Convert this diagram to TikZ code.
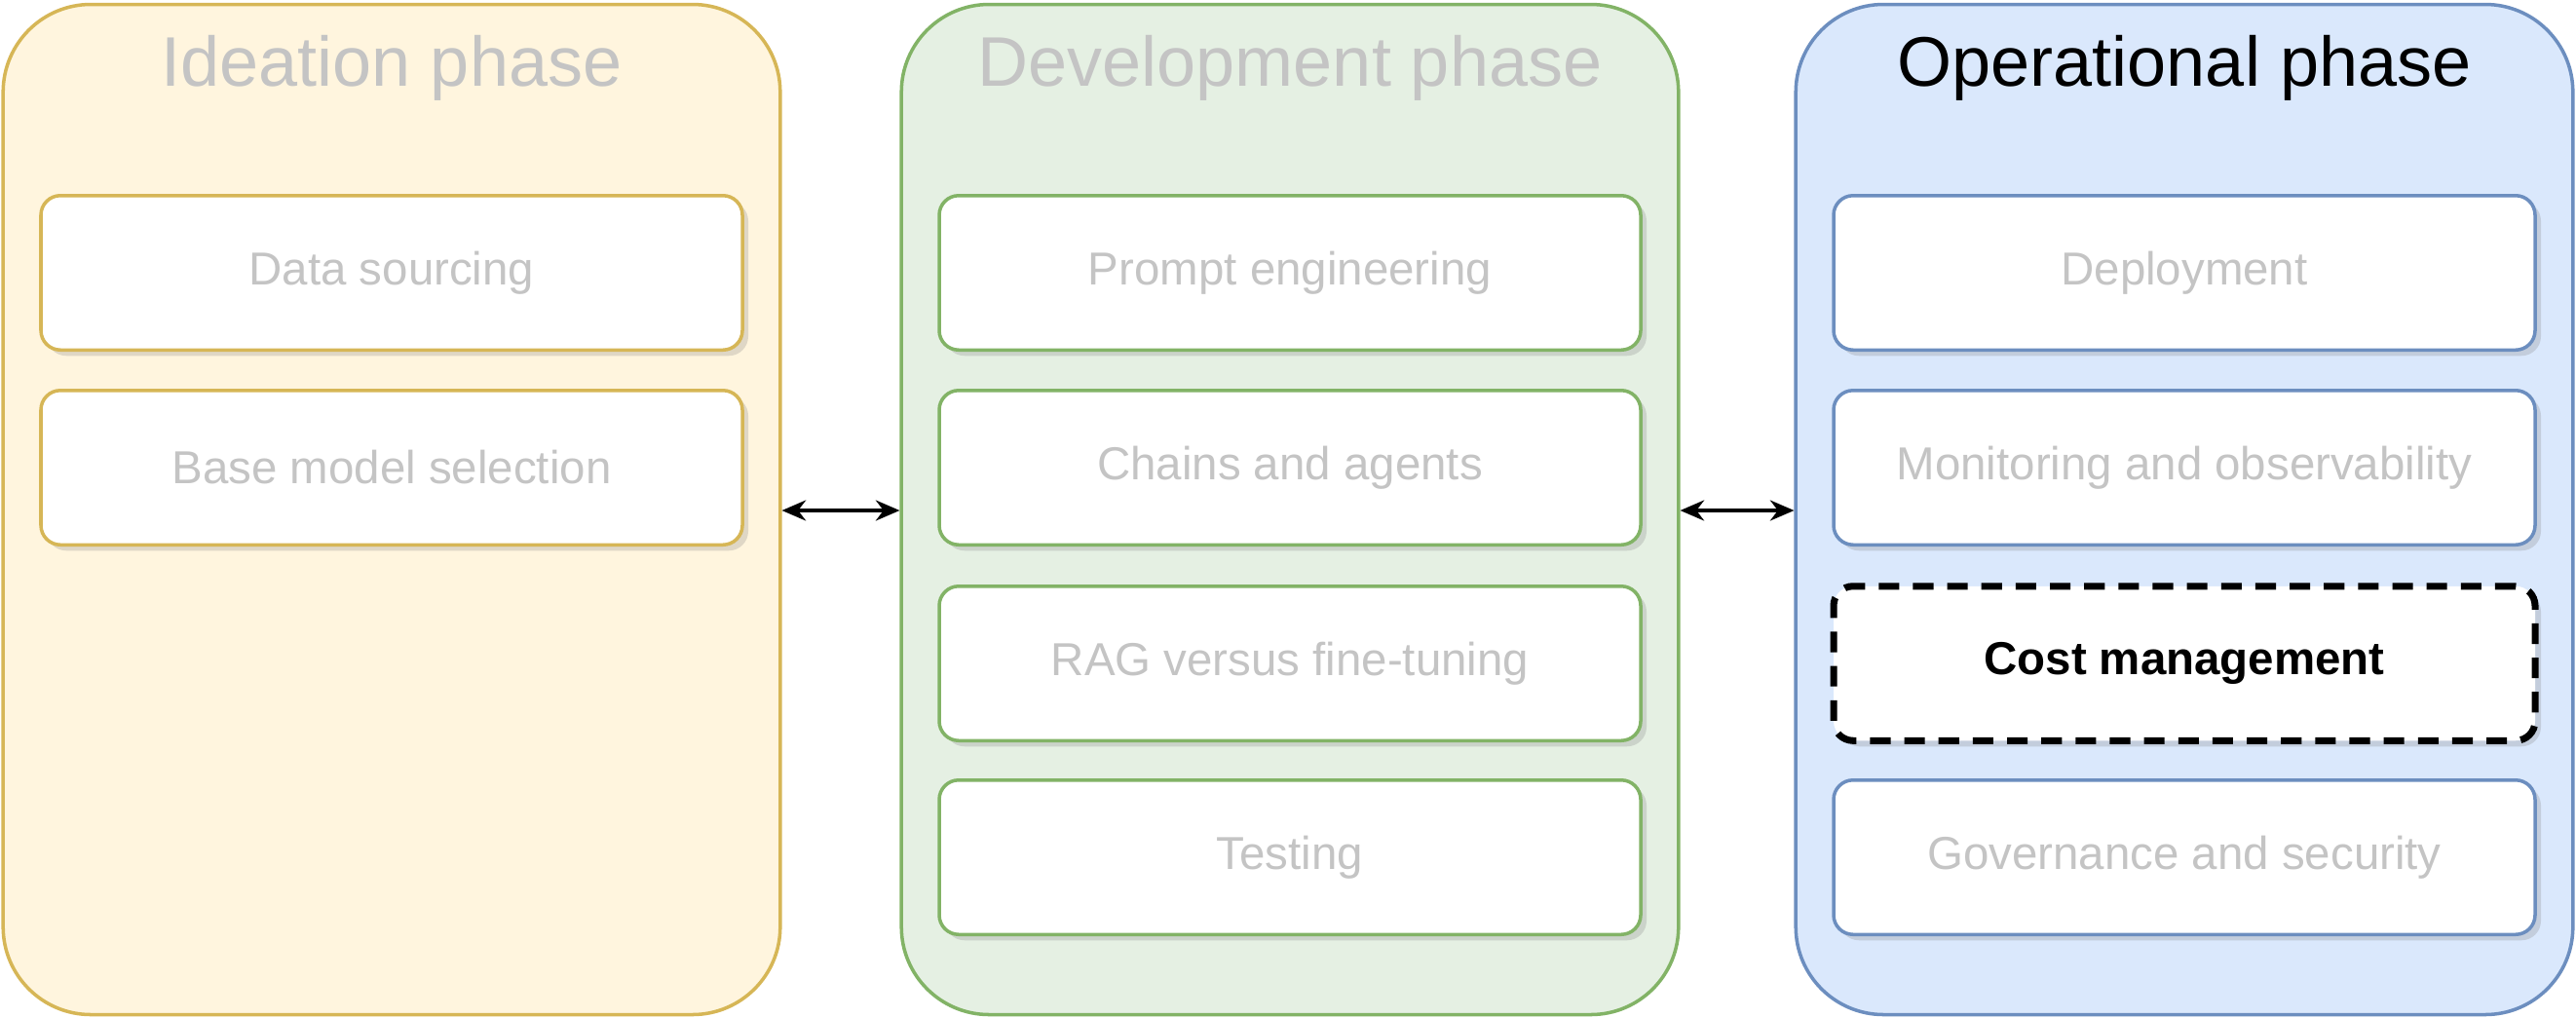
\documentclass[tikz,border=0pt]{standalone}
\usepackage{fontspec}
\setmainfont{Liberation Sans}
\usetikzlibrary{positioning,shadows,arrows.meta}
\definecolor{yfill}{HTML}{FFF5DE}
\definecolor{ydraw}{HTML}{D6B656}
\definecolor{gfill}{HTML}{E5F0E3}
\definecolor{gdraw}{HTML}{82B366}
\definecolor{bfill}{HTML}{DAE8FC}
\definecolor{bdraw}{HTML}{6C8EBF}
\definecolor{faded}{HTML}{C4C4C4}
\tikzset{
  panel/.style={draw=#1, line width=1pt, rounded corners=0.9cm,
    minimum width=7.976cm, minimum height=10.37cm},
  title/.style={font=\fontsize{20.5}{24}\selectfont, text=faded},
  task/.style={draw=#1, fill=white, line width=1pt, rounded corners=0.2cm,
    minimum width=7.2cm, minimum height=1.585cm,
    font=\fontsize{13.5}{16}\selectfont, text=faded,
    drop shadow={shadow xshift=0.06cm, shadow yshift=-0.06cm, opacity=0.25}},
  link/.style={{Stealth[length=7pt,width=6pt]}-{Stealth[length=7pt,width=6pt]}, line width=0.9pt}
}
\begin{document}
\begin{tikzpicture}
  \useasboundingbox (0,0) rectangle (26.44,-10.44);
  % phases
  \node[panel=ydraw, fill=yfill] (idea) at (4.02,-5.23) {};
  \node[panel=gdraw, fill=gfill] (dev)  at (13.24,-5.23) {};
  \node[panel=bdraw, fill=bfill] (ops)  at (22.42,-5.23) {};
  \node[title] (ideaT) at (4.02,-0.70) {Ideation phase};
  \node[title] (devT)  at (13.24,-0.70) {Development phase};
  \node[title, text=black] (opsT) at (22.42,-0.70) {Operational phase};
  % ideation
  \node[task=ydraw] (src)  at (4.02,-2.80) {Data sourcing};
  \node[task=ydraw] (base) at (4.02,-4.80) {Base model selection};
  % development
  \node[task=gdraw] (prompt) at (13.24,-2.80) {Prompt engineering};
  \node[task=gdraw] (chain)  at (13.24,-4.80) {Chains and agents};
  \node[task=gdraw] (rag)    at (13.24,-6.81) {RAG versus fine-tuning};
  \node[task=gdraw] (test)   at (13.24,-8.80) {Testing};
  % operational
  \node[task=bdraw] (deploy)  at (22.42,-2.80) {Deployment};
  \node[task=bdraw] (monitor) at (22.42,-4.80) {Monitoring and observability};
  \node[task=black, dash pattern=on 6pt off 4pt, line width=2pt, text=black, font=\fontsize{13.5}{16}\selectfont\bfseries] (cost) at (22.42,-6.81) {Cost management};
  \node[task=bdraw] (gov)     at (22.42,-8.80) {Governance and security};
  % links
  \draw[link] (idea.east |- 0,-5.24) -- (dev.west |- 0,-5.24);
  \draw[link] (dev.east |- 0,-5.24) -- (ops.west |- 0,-5.24);
\end{tikzpicture}
\end{document}
